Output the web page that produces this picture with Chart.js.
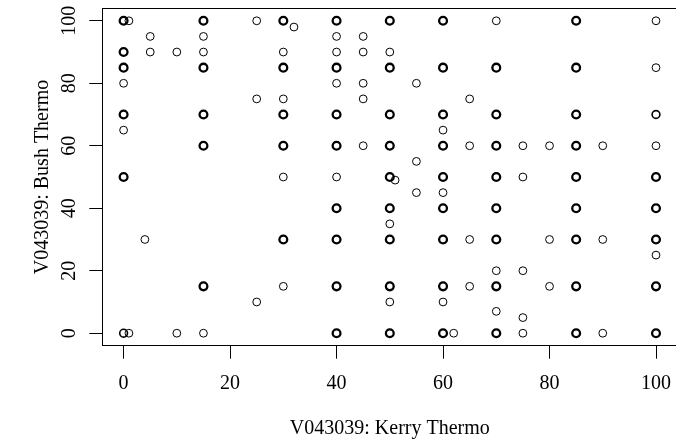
<!DOCTYPE html>
<html lang="en">
  <head>
    <meta charset="UTF-8" />
    <title>Kerry vs Bush Thermo</title>
    <script src="https://cdn.jsdelivr.net/npm/chart.js@4.4.0/dist/chart.umd.min.js"></script>
    <style>
      html, body { margin: 0; padding: 0; background: #fff; overflow: hidden; }
      .chart-view { width: 676px; height: 446px; overflow: hidden; }
    </style>
  </head>
  <body>
    <div class="chart-view">
      <canvas id="chart" width="680" height="446"></canvas>
    </div>

    <script>
      //data: one entry per plotted circle, n = how many responses sit on it
      const kerryThermo = [
        0, 0, 0, 0, 0, 0, 0, 0,
        1, 1,
        4,
        5, 5,
        10, 10,
        15, 15, 15, 15, 15, 15, 15, 15,
        25, 25, 25,
        30, 30, 30, 30, 30, 30, 30, 30, 30,
        32,
        40, 40, 40, 40, 40, 40, 40, 40, 40, 40, 40, 40,
        45, 45, 45, 45, 45,
        50, 50, 50, 50, 50, 50, 50, 50, 50, 50, 50, 50,
        51,
        55, 55, 55,
        60, 60, 60, 60, 60, 60, 60, 60, 60, 60, 60, 60,
        62,
        65, 65, 65, 65,
        70, 70, 70, 70, 70, 70, 70, 70, 70, 70, 70,
        75, 75, 75, 75, 75,
        80, 80, 80,
        85, 85, 85, 85, 85, 85, 85, 85, 85,
        90, 90, 90,
        100, 100, 100, 100, 100, 100, 100, 100, 100, 100
      ];
      const bushThermo = [
        100, 90, 85, 80, 70, 65, 50, 0,
        100, 0,
        30,
        95, 90,
        90, 0,
        100, 95, 90, 85, 70, 60, 15, 0,
        100, 75, 10,
        100, 90, 85, 75, 70, 60, 50, 30, 15,
        98,
        100, 95, 90, 85, 80, 70, 60, 50, 40, 30, 15, 0,
        95, 90, 80, 75, 60,
        100, 90, 85, 70, 60, 50, 40, 35, 30, 15, 10, 0,
        49,
        80, 55, 45,
        100, 85, 70, 65, 60, 50, 45, 40, 30, 15, 10, 0,
        0,
        75, 60, 30, 15,
        100, 85, 70, 60, 50, 40, 30, 20, 15, 7, 0,
        60, 50, 20, 5, 0,
        60, 30, 15,
        100, 85, 70, 60, 50, 40, 30, 15, 0,
        60, 30, 0,
        100, 85, 70, 60, 50, 40, 30, 25, 15, 0
      ];
      const respondents = [
        3, 3, 3, 1, 3, 1, 3, 2,
        1, 1,
        1,
        1, 1,
        1, 1,
        3, 1, 1, 3, 3, 3, 3, 1,
        1, 1, 1,
        3, 1, 3, 1, 3, 3, 1, 3, 1,
        1,
        3, 1, 1, 3, 1, 3, 3, 1, 3, 3, 3, 3,
        1, 1, 1, 1, 1,
        3, 1, 3, 3, 3, 3, 3, 1, 3, 3, 1, 3,
        1,
        1, 1, 1,
        3, 3, 3, 1, 3, 3, 1, 3, 3, 3, 1, 3,
        1,
        1, 1, 1, 1,
        1, 3, 3, 3, 3, 3, 3, 1, 3, 1, 3,
        1, 1, 1, 1, 1,
        1, 1, 1,
        3, 3, 3, 3, 3, 3, 3, 3, 3,
        1, 1, 1,
        1, 1, 2, 1, 3, 3, 3, 1, 3, 3
      ];
      const xTicks = [0, 20, 40, 60, 80, 100];
      const yTicks = [0, 20, 40, 60, 80, 100];
      const xTitle = 'V043039: Kerry Thermo';
      const yTitle = 'V043039: Bush Thermo';

      const points = kerryThermo.map((x, i) => ({ x: x, y: bushThermo[i], n: respondents[i] }));

      const serif = 'Liberation Serif, Times New Roman, serif';
      const textFont = { family: serif, size: 20 };

      //box round the plot region (top and right side; the axes draw the other two)
      const plotBox = {
        id: 'plotBox',
        afterDraw(chart) {
          const { ctx, chartArea: a } = chart;
          const l = Math.round(a.left) + 0.5;
          const t = Math.round(a.top) + 0.5;
          const r = Math.round(a.right) + 0.5;
          const b = Math.round(a.bottom) + 0.5;
          ctx.save();
          ctx.strokeStyle = '#000';
          ctx.lineWidth = 1;
          ctx.beginPath();
          ctx.moveTo(l, t);
          ctx.lineTo(r, t);
          ctx.lineTo(r, b);
          ctx.stroke();
          ctx.restore();
        }
      };

      //config
      const config = {
        type: 'scatter',
        data: {
          datasets: [
            {
              data: points,
              pointStyle: 'circle',
              pointRadius: 3.9,
              pointHoverRadius: 3.9,
              backgroundColor: 'rgba(0,0,0,0)',
              borderColor: '#000',
              pointBorderWidth: (c) => (c.raw && c.raw.n >= 3 ? 2.3 : c.raw && c.raw.n === 2 ? 1.6 : 1)
            }
          ]
        },
        options: {
          responsive: false,
          animation: false,
          events: [],
          layout: { autoPadding: false, padding: { top: 8.3, right: 2.7, left: 0, bottom: 0 } },
          plugins: { legend: { display: false }, tooltip: { enabled: false } },
          scales: {
            x: {
              type: 'linear',
              min: -4,
              max: 104,
              afterBuildTicks: (s) => { s.ticks = xTicks.map((v) => ({ value: v })); },
              afterFit: (s) => { s.height = 100.3; s.paddingLeft = 0; s.paddingRight = 0; },
              ticks: { font: textFont, color: '#000', padding: 13.4, maxRotation: 0, autoSkip: false },
              grid: { drawOnChartArea: false, drawTicks: true, tickLength: 13, color: '#000' },
              border: { display: true, color: '#000', width: 1 },
              title: { display: true, text: xTitle, color: '#000', font: textFont, padding: { top: 0, bottom: 5 } }
            },
            y: {
              type: 'linear',
              min: -4,
              max: 104,
              afterBuildTicks: (s) => { s.ticks = yTicks.map((v) => ({ value: v })); },
              afterFit: (s) => { s.width = 102.3; s.paddingTop = 0; s.paddingBottom = 0; },
              ticks: { font: textFont, color: '#000', padding: 4.8, minRotation: 90, maxRotation: 90, crossAlign: 'center', autoSkip: false },
              grid: { drawOnChartArea: false, drawTicks: true, tickLength: 13, color: '#000' },
              border: { display: true, color: '#000', width: 1 },
              title: { display: true, text: yTitle, color: '#000', font: textFont, padding: { top: 30.5, bottom: 0 } }
            }
          }
        },
        plugins: [plotBox]
      };

      //init
      const ctx = document.getElementById('chart');
      const chart = new Chart(ctx, config);
    </script>
  </body>
</html>
